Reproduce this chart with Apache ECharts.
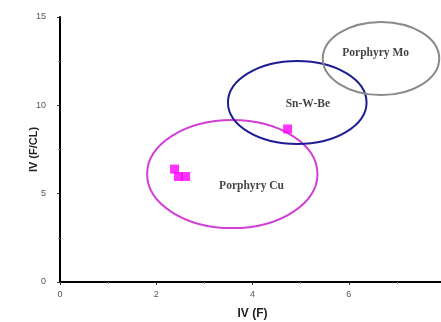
<!DOCTYPE html>
<html><head><meta charset="utf-8">
<script src="https://cdn.jsdelivr.net/npm/echarts@6/dist/echarts.min.js"></script>
<style>html,body{margin:0;padding:0;background:#fff}#c{width:441px;height:322px}</style>
</head><body><div id="c"></div>
<script>
// sample points (IV(F), IV(F/CL))
const samplesX = [2.38, 2.46, 2.61, 4.73];
const samplesY = [6.39, 5.97, 5.97, 8.66];
// field ellipses: name, centre x, centre y, radius x, radius y
const fieldNames = ['Porphyry Cu', 'Sn-W-Be', 'Porphyry Mo'];
const fieldCx = [3.58, 4.93, 6.67];
const fieldCy = [6.11, 10.16, 12.65];
const fieldRx = [1.77, 1.44, 1.21];
const fieldRy = [3.06, 2.35, 2.07];
const fieldColors = ['#d23fd6', '#1c1c94', '#8a8a8a'];
// label positions
const labelX = [3.98, 5.15, 6.56];
const labelY = [5.43, 10.07, 12.96];
const xTicks = [0, 2, 4, 6, 8];
const yTicks = [0, 5, 10, 15];

const chart = echarts.init(document.getElementById('c'));
const ellipseData = fieldNames.map((n, i) => [fieldCx[i], fieldCy[i], fieldRx[i], fieldRy[i], i]);
chart.setOption({
  animation: false,
  grid: {left: 60, right: -4, top: 17, bottom: 40, containLabel: false, outerBoundsMode: 'none'},
  xAxis: {
    type: 'value', min: 0, max: 8, interval: 2,
    name: 'IV (F)', nameLocation: 'middle', nameGap: 26,
    nameTextStyle: {fontFamily: 'Liberation Sans', fontWeight: 'bold', fontSize: 12, color: '#222'},
    axisLine: {show: true, onZero: false, lineStyle: {color: '#000', width: 2}},
    axisTick: {show: true, length: 3, lineStyle: {color: '#333'}},
    minorTick: {show: true, splitNumber: 2, length: 2, lineStyle: {color: '#888'}},
    axisLabel: {color: '#555', fontSize: 9, fontFamily: 'Liberation Sans', margin: 8, showMaxLabel: true, hideOverlap: false},
    splitLine: {show: false}
  },
  yAxis: {
    type: 'value', min: 0, max: 15, interval: 5,
    name: 'IV (F/CL)', nameLocation: 'middle', nameGap: 21, nameMoveOverlap: false,
    nameTextStyle: {fontFamily: 'Liberation Sans', fontWeight: 'bold', fontSize: 11, color: '#222'},
    axisLine: {show: true, onZero: false, lineStyle: {color: '#000', width: 2}},
    axisTick: {show: true, length: 3, lineStyle: {color: '#333'}},
    minorTick: {show: true, splitNumber: 2, length: 2, lineStyle: {color: '#888'}},
    axisLabel: {color: '#555', fontSize: 9, fontFamily: 'Liberation Sans', margin: 14},
    splitLine: {show: false}
  },
  series: [
    {
      type: 'custom',
      data: ellipseData,
      clip: false,
      renderItem: function (params, api) {
        const c = api.coord([api.value(0), api.value(1)]);
        const s = api.size([api.value(2), api.value(3)]);
        const idx = api.value(4);
        return {
          type: 'ellipse',
          shape: {cx: c[0], cy: c[1], rx: s[0], ry: s[1]},
          style: {fill: 'none', stroke: fieldColors[idx], lineWidth: 2}
        };
      },
      z: 2
    },
    {
      type: 'scatter',
      data: samplesX.map((x, i) => [x, samplesY[i]]),
      symbol: 'rect', symbolSize: 9,
      itemStyle: {color: '#ff00ff'},
      z: 3
    },
    {
      type: 'scatter',
      data: labelX.map((x, i) => ({value: [x, labelY[i]], name: fieldNames[i]})),
      symbolSize: 0,
      label: {
        show: true, position: 'inside', formatter: p => p.name,
        fontFamily: 'Liberation Serif', fontWeight: 'bold', fontSize: 11.5, color: '#111'
      },
      z: 4
    }
  ]
});
</script></body></html>
